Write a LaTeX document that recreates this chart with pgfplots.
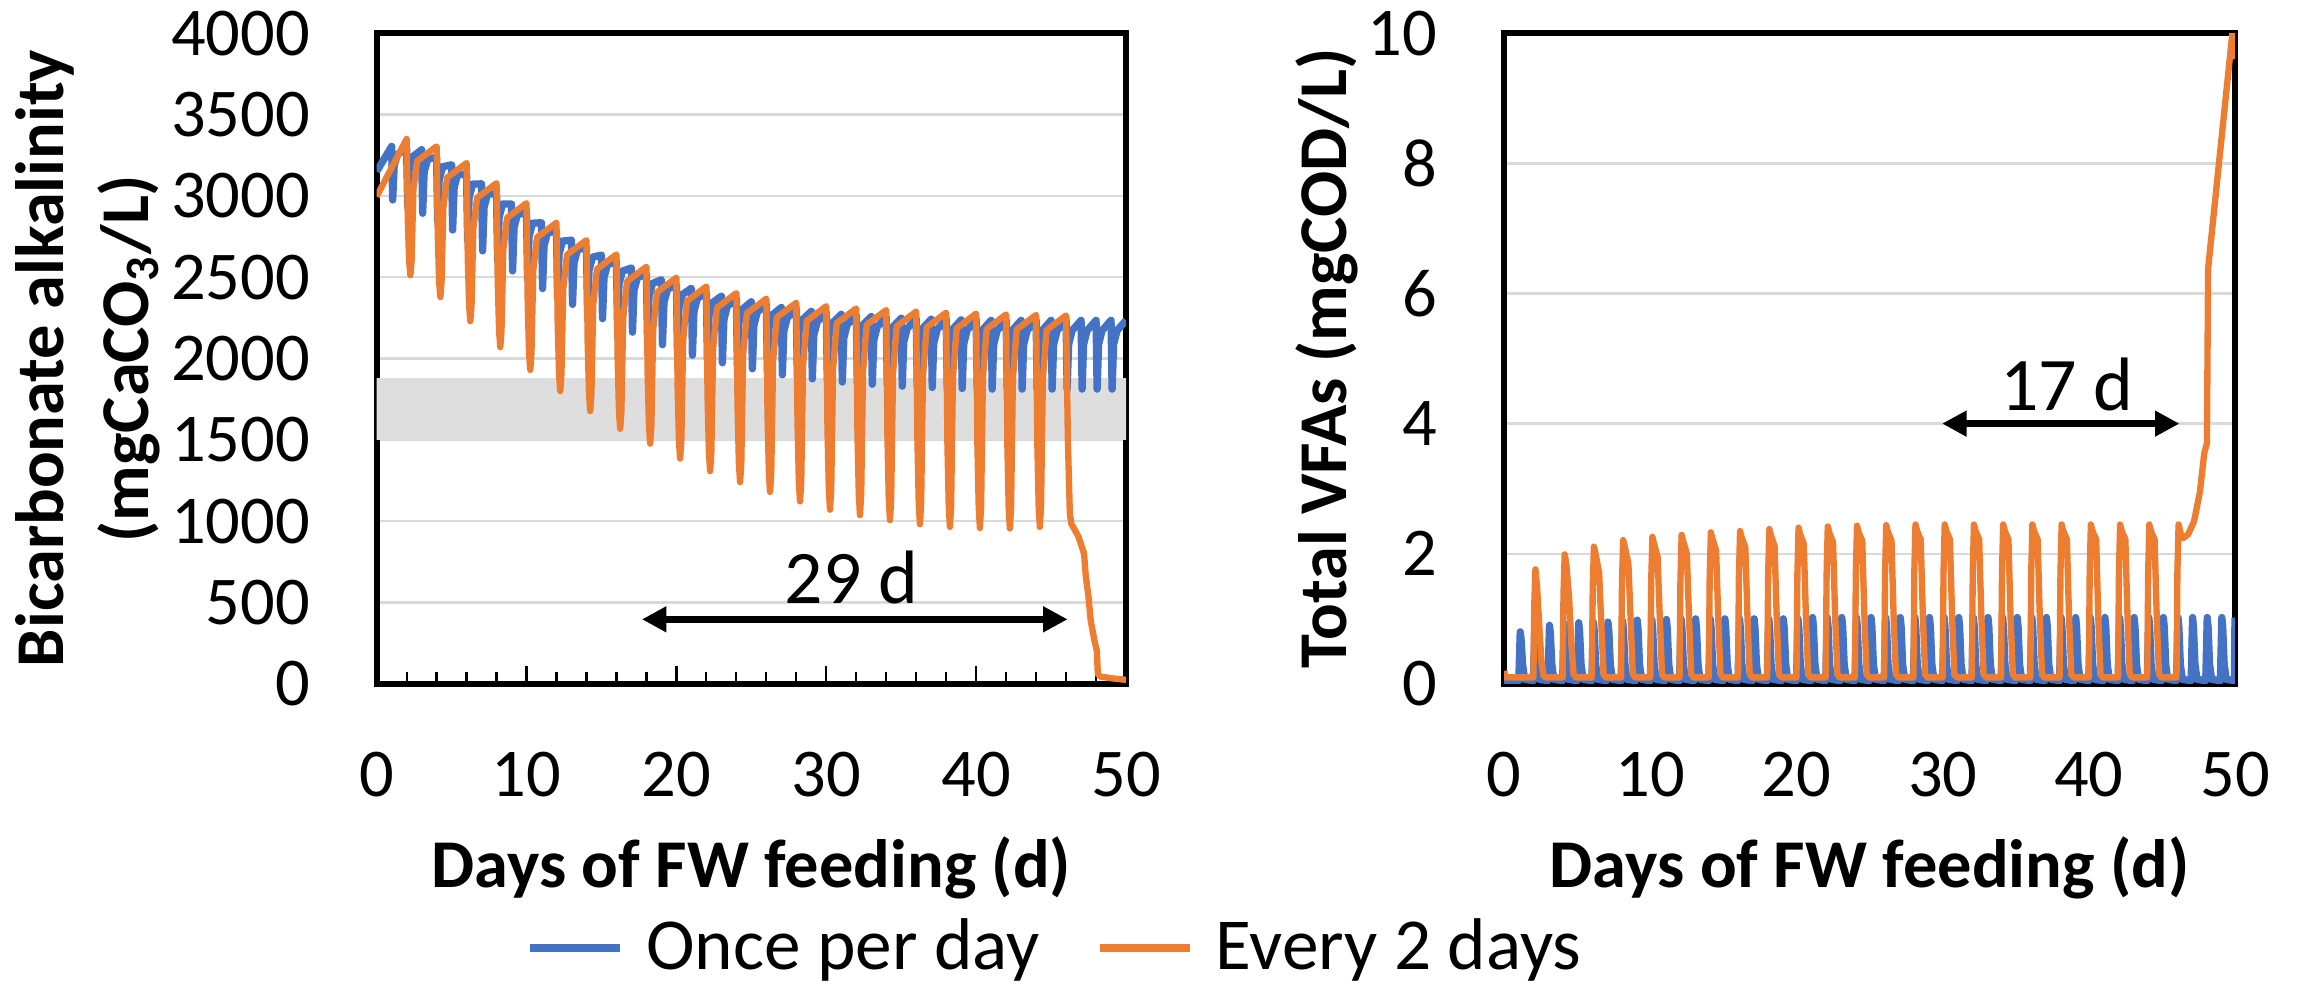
\documentclass[border=0pt]{standalone}
\usepackage{fontspec}
\setmainfont{Carlito}
\usepackage{pgfplots}
\pgfplotsset{compat=1.18}
\usetikzlibrary{arrows.meta}

\definecolor{xblue}{HTML}{4472C4}
\definecolor{xorange}{HTML}{ED7D31}
\definecolor{xgrid}{HTML}{D9D9D9}
\definecolor{xband}{HTML}{DEDEDE}

\pgfplotsset{
  panel/.style={
    scale only axis,
    height=133.2pt,
    xmin=0, xmax=50, xtick={0,10,...,50}, minor x tick num=4,
    xtick pos=bottom, tick align=inside,
    major tick length=3.6pt, minor tick length=2.4pt,
    xtick style={black, line width=0.45pt},
    ytick style={draw=none},
    ymajorgrids, major grid style={xgrid, line width=0.5pt},
    axis line style={line width=1.2pt},
    tick label style={font=\fontsize{14}{16}\selectfont},
    /pgf/number format/assume math mode=true,
    /pgf/number format/1000 sep={},
    scaled y ticks=false,
    yticklabel style={anchor=east, inner sep=0pt, xshift=-13.5pt},
    xticklabel style={anchor=base, inner sep=0pt, yshift=-23pt},
    xlabel={Days of FW feeding (d)},
    xlabel style={font=\bfseries\fontsize{14}{17}\selectfont, at={(axis description cs:0.5,0)}, anchor=base, yshift=-41.6pt, inner sep=0pt},
    ylabel style={font=\bfseries\fontsize{14}{17.4}\selectfont, anchor=center, align=center},
    every axis plot/.append style={line join=round},
  },
  blueline/.style={xblue, line width=1.5pt},
  orangeline/.style={xorange, line width=1.3pt},
}

\begin{document}
\begin{tikzpicture}
\useasboundingbox (-77.1pt,-62.2pt) rectangle (393.3pt,140pt);

% ---------- left: bicarbonate alkalinity ----------
\begin{axis}[panel, width=153.4pt,
  ymin=0, ymax=4000, ytick={0,500,...,4000},
  ylabel={Bicarbonate alkalinity\\(mgCaCO\textsubscript{3}/L)},
  ylabel style={at={(axis description cs:-0.386,0.5)}},
  legend style={at={(axis description cs:0.9034,-0.406)}, anchor=center,
    legend columns=2, draw=none, fill=none,
    font=\fontsize{15}{18}\selectfont, nodes={inner sep=0pt},
    /tikz/every odd column/.style={column sep=4.4pt},
    /tikz/every even column/.style={column sep=11.4pt}},
  legend image code/.code={\draw[#1, line width=1.8pt] (0pt,0pt) -- (18.4pt,0pt);},
]
% critical range band
\addplot[fill=xband, draw=none, forget plot] coordinates {(0,1500) (50,1500) (50,1880) (0,1880) (0,1500)};

% once per day
\addplot[blueline] coordinates {
(0,3150)
(1,3304)(1.07,2975)(1.17,3189)(1.4,3255)
(2,3294)(2.07,2935)(2.17,3168)(2.4,3240)
(3,3284)(3.07,2893)(3.17,3147)(3.4,3225)
(4,3238)(4.07,2842)(4.17,3099)(4.4,3179)
(5,3191)(5.07,2790)(5.17,3051)(5.4,3131)
(6,3133)(6.07,2726)(6.17,2991)(6.4,3072)
(7,3074)(7.07,2662)(7.17,2930)(7.4,3012)
(8,3012)(8.07,2600)(8.17,2868)(8.4,2950)
(9,2950)(9.07,2539)(9.17,2806)(9.4,2888)
(10,2893)(10.07,2485)(10.17,2750)(10.4,2832)
(11,2835)(11.07,2430)(11.17,2693)(11.4,2774)
(12,2782)(12.07,2380)(12.17,2641)(12.4,2722)
(13,2728)(13.07,2333)(13.17,2590)(13.4,2669)
(14,2682)(14.07,2289)(14.17,2544)(14.4,2623)
(15,2636)(15.07,2245)(15.17,2499)(15.4,2577)
(16,2597)(16.07,2203)(16.17,2459)(16.4,2538)
(17,2557)(17.07,2162)(17.17,2419)(17.4,2498)
(18,2520)(18.07,2124)(18.17,2381)(18.4,2461)
(19,2485)(19.07,2085)(19.17,2345)(19.4,2425)
(20,2455)(20.07,2050)(20.17,2313)(20.4,2394)
(21,2432)(21.07,2020)(21.17,2288)(21.4,2370)
(22,2405)(22.07,1995)(22.17,2261)(22.4,2343)
(23,2383)(23.07,1974)(23.17,2240)(23.4,2322)
(24,2365)(24.07,1955)(24.17,2221)(24.4,2303)
(25,2349)(25.07,1937)(25.17,2205)(25.4,2287)
(26,2330)(26.07,1918)(26.17,2186)(26.4,2268)
(27,2314)(27.07,1900)(27.17,2169)(27.4,2252)
(28,2300)(28.07,1887)(28.17,2155)(28.4,2238)
(29,2290)(29.07,1875)(29.17,2145)(29.4,2228)
(30,2280)(30.07,1865)(30.17,2135)(30.4,2218)
(31,2272)(31.07,1856)(31.17,2126)(31.4,2210)
(32,2264)(32.07,1848)(32.17,2118)(32.4,2202)
(33,2258)(33.07,1842)(33.17,2112)(33.4,2196)
(34,2252)(34.07,1836)(34.17,2106)(34.4,2190)
(35,2248)(35.07,1830)(35.17,2102)(35.4,2185)
(36,2245)(36.07,1826)(36.17,2098)(36.4,2182)
(37,2242)(37.07,1822)(37.17,2095)(37.4,2179)
(38,2240)(38.07,1819)(38.17,2093)(38.4,2177)
(39,2238)(39.07,1816)(39.17,2090)(39.4,2175)
(40,2237)(40.07,1814)(40.17,2089)(40.4,2174)
(41,2235)(41.07,1812)(41.17,2087)(41.4,2172)
(42,2235)(42.07,1812)(42.17,2087)(42.4,2172)
(43,2235)(43.07,1812)(43.17,2087)(43.4,2172)
(44,2235)(44.07,1812)(44.17,2087)(44.4,2172)
(45,2235)(45.07,1812)(45.17,2087)(45.4,2172)
(46,2235)(46.07,1812)(46.17,2087)(46.4,2172)
(47,2235)(47.07,1812)(47.17,2087)(47.4,2172)
(48,2235)(48.07,1812)(48.17,2087)(48.4,2172)
(49,2235)(49.07,1812)(49.17,2087)(49.4,2172)
(50,2235)
};
\addlegendentry{Once per day}

% every 2 days
\addplot[orangeline] coordinates {
(0,2996)
(2,3350)(2.08,2847)(2.17,2596)(2.25,2512)(2.33,2596)(2.45,3039)(2.7,3214)
(4,3304)(4.08,2748)(4.17,2471)(4.25,2378)(4.33,2471)(4.45,2929)(4.7,3112)
(6,3202)(6.08,2619)(6.17,2327)(6.25,2230)(6.33,2327)(6.45,2799)(6.7,2988)
(8,3078)(8.08,2473)(8.17,2171)(8.25,2070)(8.33,2171)(8.45,2666)(8.7,2865)
(10,2955)(10.08,2340)(10.17,2033)(10.25,1930)(10.33,2033)(10.45,2541)(10.7,2745)
(12,2835)(12.08,2214)(12.17,1904)(12.25,1800)(12.33,1904)(12.45,2429)(12.7,2638)
(14,2728)(14.08,2097)(14.17,1782)(14.25,1677)(14.33,1782)(14.45,2332)(14.7,2550)
(16,2640)(16.08,1997)(16.17,1675)(16.25,1568)(16.33,1675)(16.45,2248)(16.7,2474)
(18,2564)(18.08,1912)(18.17,1586)(18.25,1477)(18.33,1586)(18.45,2175)(18.7,2407)
(20,2497)(20.08,1830)(20.17,1496)(20.25,1385)(20.33,1496)(20.45,2111)(20.7,2353)
(22,2443)(22.08,1762)(22.17,1422)(22.25,1308)(22.33,1422)(22.45,2061)(22.7,2312)
(24,2402)(24.08,1705)(24.17,1356)(24.25,1240)(24.33,1356)(24.45,2019)(24.7,2278)
(26,2368)(26.08,1655)(26.17,1299)(26.25,1180)(26.33,1299)(26.45,1985)(26.7,2253)
(28,2343)(28.08,1610)(28.17,1244)(28.25,1122)(28.33,1244)(28.45,1955)(28.7,2232)
(30,2322)(30.08,1571)(30.17,1196)(30.25,1071)(30.33,1196)(30.45,1931)(30.7,2218)
(32,2308)(32.08,1545)(32.17,1164)(32.25,1037)(32.33,1164)(32.45,1915)(32.7,2208)
(34,2298)(34.08,1523)(34.17,1135)(34.25,1006)(34.33,1135)(34.45,1901)(34.7,2199)
(36,2289)(36.08,1504)(36.17,1112)(36.25,981)(36.33,1112)(36.45,1889)(36.7,2192)
(38,2282)(38.08,1492)(38.17,1097)(38.25,965)(38.33,1097)(38.45,1881)(38.7,2186)
(40,2276)(40.08,1485)(40.17,1090)(40.25,958)(40.33,1090)(40.45,1875)(40.7,2181)
(42,2271)(42.08,1481)(42.17,1087)(42.25,955)(42.33,1087)(42.45,1872)(42.7,2178)
(44,2268)(44.08,1486)(44.17,1095)(44.25,965)(44.33,1095)(44.45,1873)(44.7,2175)
(46,2265)(46.12,1500)(46.25,1050)(46.35,985)(46.84,903)(47.2,800)(47.3,676)
(47.5,531)(47.65,387)(47.9,262)(48.05,205)(48.12,60)(48.3,45)(49,35)(50,25)
};
\addlegendentry{Every 2 days}

\draw[{Triangle[length=5pt,width=5pt]}-{Triangle[length=5pt,width=5pt]}, line width=1.3pt]
  (axis cs:17.7,397) -- (axis cs:46.1,397);
\node[font=\fontsize{15.5}{18}\selectfont] at (axis cs:31.7,657) {29 d};
\end{axis}

% ---------- right: total VFAs ----------
\begin{axis}[panel, at={(230.8pt,0pt)}, width=149.6pt,
  ymin=0, ymax=10, ytick={0,2,...,10},
  ylabel={Total VFAs (mgCOD/L)},
  ylabel style={at={(axis description cs:-0.242,0.5)}},
]
\addplot[blueline] coordinates {
(0,0.05)
(1,0.05)(1.1,0.80)(1.16,0.68)(1.26,0.3)(1.4,0.07)
(2,0.05)(2.1,0.86)(2.16,0.73)(2.26,0.3)(2.4,0.07)
(3,0.05)(3.1,0.90)(3.16,0.77)(3.26,0.3)(3.4,0.07)
(4,0.05)(4.1,0.92)(4.16,0.78)(4.26,0.3)(4.4,0.07)
(5,0.05)(5.1,0.94)(5.16,0.80)(5.26,0.3)(5.4,0.07)
(6,0.05)(6.1,0.95)(6.16,0.81)(6.26,0.3)(6.4,0.07)
(7,0.05)(7.1,0.95)(7.16,0.81)(7.26,0.3)(7.4,0.07)
(8,0.05)(8.1,0.97)(8.16,0.82)(8.26,0.3)(8.4,0.07)
(9,0.05)(9.1,0.98)(9.16,0.83)(9.26,0.3)(9.4,0.07)
(10,0.05)(10.1,0.99)(10.16,0.84)(10.26,0.3)(10.4,0.07)
(11,0.05)(11.1,0.99)(11.16,0.84)(11.26,0.3)(11.4,0.07)
(12,0.05)(12.1,1.00)(12.16,0.85)(12.26,0.3)(12.4,0.07)
(13,0.05)(13.1,1.00)(13.16,0.85)(13.26,0.3)(13.4,0.07)
(14,0.05)(14.1,1.00)(14.16,0.85)(14.26,0.3)(14.4,0.07)
(15,0.05)(15.1,1.00)(15.16,0.85)(15.26,0.3)(15.4,0.07)
(16,0.05)(16.1,1.00)(16.16,0.85)(16.26,0.3)(16.4,0.07)
(17,0.05)(17.1,1.00)(17.16,0.85)(17.26,0.3)(17.4,0.07)
(18,0.05)(18.1,1.00)(18.16,0.85)(18.26,0.3)(18.4,0.07)
(19,0.05)(19.1,1.00)(19.16,0.85)(19.26,0.3)(19.4,0.07)
(20,0.05)(20.1,1.00)(20.16,0.85)(20.26,0.3)(20.4,0.07)
(21,0.05)(21.1,1.02)(21.16,0.87)(21.26,0.3)(21.4,0.07)
(22,0.05)(22.1,1.02)(22.16,0.87)(22.26,0.3)(22.4,0.07)
(23,0.05)(23.1,1.02)(23.16,0.87)(23.26,0.3)(23.4,0.07)
(24,0.05)(24.1,1.02)(24.16,0.87)(24.26,0.3)(24.4,0.07)
(25,0.05)(25.1,1.02)(25.16,0.87)(25.26,0.3)(25.4,0.07)
(26,0.05)(26.1,1.02)(26.16,0.87)(26.26,0.3)(26.4,0.07)
(27,0.05)(27.1,1.02)(27.16,0.87)(27.26,0.3)(27.4,0.07)
(28,0.05)(28.1,1.02)(28.16,0.87)(28.26,0.3)(28.4,0.07)
(29,0.05)(29.1,1.02)(29.16,0.87)(29.26,0.3)(29.4,0.07)
(30,0.05)(30.1,1.02)(30.16,0.87)(30.26,0.3)(30.4,0.07)
(31,0.05)(31.1,1.02)(31.16,0.87)(31.26,0.3)(31.4,0.07)
(32,0.05)(32.1,1.02)(32.16,0.87)(32.26,0.3)(32.4,0.07)
(33,0.05)(33.1,1.02)(33.16,0.87)(33.26,0.3)(33.4,0.07)
(34,0.05)(34.1,1.02)(34.16,0.87)(34.26,0.3)(34.4,0.07)
(35,0.05)(35.1,1.02)(35.16,0.87)(35.26,0.3)(35.4,0.07)
(36,0.05)(36.1,1.02)(36.16,0.87)(36.26,0.3)(36.4,0.07)
(37,0.05)(37.1,1.02)(37.16,0.87)(37.26,0.3)(37.4,0.07)
(38,0.05)(38.1,1.02)(38.16,0.87)(38.26,0.3)(38.4,0.07)
(39,0.05)(39.1,1.02)(39.16,0.87)(39.26,0.3)(39.4,0.07)
(40,0.05)(40.1,1.02)(40.16,0.87)(40.26,0.3)(40.4,0.07)
(41,0.05)(41.1,1.02)(41.16,0.87)(41.26,0.3)(41.4,0.07)
(42,0.05)(42.1,1.02)(42.16,0.87)(42.26,0.3)(42.4,0.07)
(43,0.05)(43.1,1.02)(43.16,0.87)(43.26,0.3)(43.4,0.07)
(44,0.05)(44.1,1.02)(44.16,0.87)(44.26,0.3)(44.4,0.07)
(45,0.05)(45.1,1.02)(45.16,0.87)(45.26,0.3)(45.4,0.07)
(46,0.05)(46.1,1.02)(46.16,0.87)(46.26,0.3)(46.4,0.07)
(47,0.05)(47.1,1.02)(47.16,0.87)(47.26,0.3)(47.4,0.07)
(48,0.05)(48.1,1.02)(48.16,0.87)(48.26,0.3)(48.4,0.07)
(49,0.05)(49.1,1.02)(49.16,0.87)(49.26,0.3)(49.4,0.07)
(49.96,0.05)(50,1.02)
};

\addplot[orangeline] coordinates {
(0,0.2)(0.1,0.1)
(2,0.1)(2.06,1.23)(2.14,1.76)(2.25,1.5)(2.4,0.9)(2.55,0.35)(2.7,0.12)(2.85,0.1)
(4,0.1)(4.06,1.39)(4.14,1.99)(4.25,1.85)(4.45,1.3)(4.6,0.6)(4.75,0.15)(4.9,0.1)
(6,0.1)(6.06,1.48)(6.14,2.11)(6.25,2.0)(6.5,1.7)(6.65,0.9)(6.8,0.15)(6.95,0.1)
(8,0.1)(8.06,1.55)(8.14,2.21)(8.25,2.11)(8.5,1.85)(8.65,1.0)(8.8,0.15)(8.95,0.1)
(10,0.1)(10.06,1.58)(10.14,2.26)(10.25,2.16)(10.5,1.95)(10.65,1.0)(10.8,0.15)(10.95,0.1)
(12,0.1)(12.06,1.60)(12.14,2.29)(12.25,2.19)(12.5,2.0)(12.65,1.0)(12.8,0.15)(12.95,0.1)
(14,0.1)(14.06,1.63)(14.14,2.33)(14.25,2.23)(14.5,2.05)(14.65,1.0)(14.8,0.15)(14.95,0.1)
(16,0.1)(16.06,1.65)(16.14,2.35)(16.25,2.25)(16.5,2.1)(16.65,1.0)(16.8,0.15)(16.95,0.1)
(18,0.1)(18.06,1.67)(18.14,2.38)(18.25,2.28)(18.5,2.12)(18.65,1.0)(18.8,0.15)(18.95,0.1)
(20,0.1)(20.06,1.68)(20.14,2.40)(20.25,2.30)(20.5,2.15)(20.65,1.0)(20.8,0.15)(20.95,0.1)
(22,0.1)(22.06,1.69)(22.14,2.42)(22.25,2.32)(22.5,2.18)(22.65,1.0)(22.8,0.15)(22.95,0.1)
(24,0.1)(24.06,1.70)(24.14,2.43)(24.25,2.33)(24.5,2.2)(24.65,1.0)(24.8,0.15)(24.95,0.1)
(26,0.1)(26.06,1.71)(26.14,2.44)(26.25,2.34)(26.5,2.2)(26.65,1.0)(26.8,0.15)(26.95,0.1)
(28,0.1)(28.06,1.72)(28.14,2.45)(28.25,2.35)(28.5,2.22)(28.65,1.0)(28.8,0.15)(28.95,0.1)
(30,0.1)(30.06,1.72)(30.14,2.45)(30.25,2.35)(30.5,2.22)(30.65,1.0)(30.8,0.15)(30.95,0.1)
(32,0.1)(32.06,1.72)(32.14,2.45)(32.25,2.35)(32.5,2.22)(32.65,1.0)(32.8,0.15)(32.95,0.1)
(34,0.1)(34.06,1.72)(34.14,2.45)(34.25,2.35)(34.5,2.22)(34.65,1.0)(34.8,0.15)(34.95,0.1)
(36,0.1)(36.06,1.72)(36.14,2.45)(36.25,2.35)(36.5,2.22)(36.65,1.0)(36.8,0.15)(36.95,0.1)
(38,0.1)(38.06,1.72)(38.14,2.45)(38.25,2.35)(38.5,2.22)(38.65,1.0)(38.8,0.15)(38.95,0.1)
(40,0.1)(40.06,1.72)(40.14,2.45)(40.25,2.35)(40.5,2.22)(40.65,1.0)(40.8,0.15)(40.95,0.1)
(42,0.1)(42.06,1.72)(42.14,2.45)(42.25,2.35)(42.5,2.22)(42.65,1.0)(42.8,0.15)(42.95,0.1)
(44,0.1)(44.06,1.72)(44.14,2.45)(44.25,2.35)(44.5,2.22)(44.65,1.0)(44.8,0.15)(44.95,0.1)
(46,0.1)(46.06,1.72)(46.14,2.45)(46.3,2.3)(46.45,2.24)(46.8,2.3)(47.2,2.5)(47.6,2.95)
(47.9,3.55)(48.08,3.7)(48.16,6.38)(49.82,10)(49.95,10)(50,9.6)
};

\draw[{Triangle[length=5pt,width=5pt]}-{Triangle[length=5pt,width=5pt]}, line width=1.3pt]
  (axis cs:29.96,4.0) -- (axis cs:46.2,4.0);
\node[font=\fontsize{15.5}{18}\selectfont] at (axis cs:38.5,4.6) {17 d};
\end{axis}
\end{tikzpicture}
\end{document}
